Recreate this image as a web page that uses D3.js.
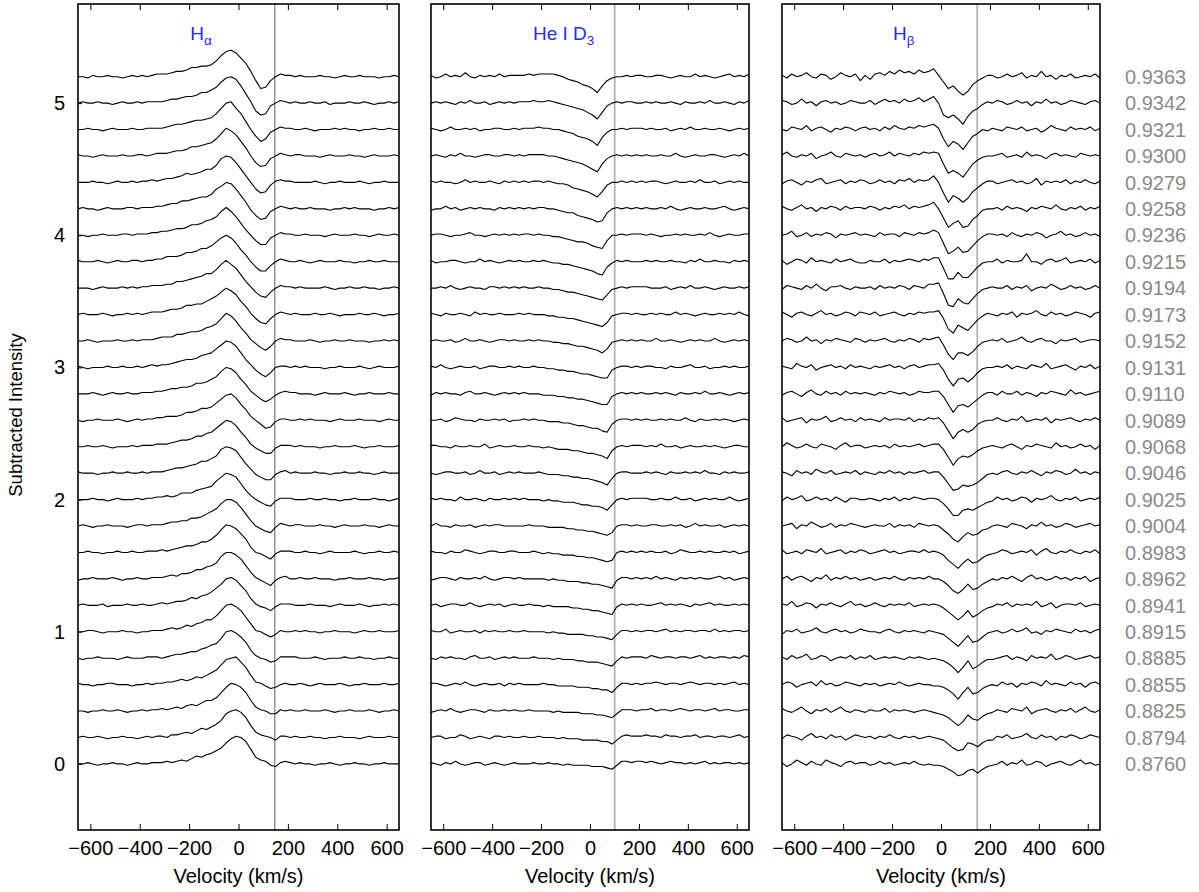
<!DOCTYPE html>
<html><head><meta charset="utf-8">
<script src="https://cdn.jsdelivr.net/npm/d3@7"></script>
<style>body{margin:0;background:#fff}svg{display:block}text{font-family:"Liberation Sans",Arial,Helvetica,sans-serif}</style>
</head><body><svg id="c" width="1199" height="892"></svg>
<script>
// ---------------- DATA ----------------
const velocity = [-650,-630,-610,-590,-570,-550,-530,-510,-490,-470,-450,-430,-410,-390,-370,-350,-330,
  -310,-290,-270,-250,-230,-210,-190,-170,-150,-130,-110,-90,-70,-50,-30,-10,10,30,50,70,90,110,130,150,170,190,
  210,230,250,270,290,310,330,350,370,390,410,430,450,470,490,510,530,550,570,590,610,630,650];
// phases, bottom spectrum first
const phases = ["0.8760","0.8794","0.8825","0.8855","0.8885","0.8915","0.8941","0.8962","0.8983","0.9004","0.9025","0.9046","0.9068","0.9089","0.9110","0.9131","0.9152","0.9173","0.9194","0.9215","0.9236","0.9258","0.9279","0.9300","0.9321","0.9342","0.9363"];
const offsets = [0,0.2,0.4,0.6,0.8,1.0,1.2,1.4,1.6,1.8,2.0,2.2,2.4,2.6,2.8,3.0,3.2,3.4,3.6,3.8,4.0,4.2,4.4,4.6,4.8,5.0,5.2];
const xTicks = [-600,-400,-200,0,200,400,600];
const yTicks = [0,1,2,3,4,5];
const lineNames = [["H","α"],["He I D","3"],["H","β"]];
const titleVelocity = [-195,-233,-196];
const restLine = [147,101,148];

// intensities in units of 0.01, rows bottom (0.8760) to top (0.9363)
// H-alpha: wing -650..-330 | core -310..190 | wing 210..650
const haLeft = [
[0,0,1,0,-1,0,0,1,0,0,-1,0,1,0,0,1,1],[0,1,0,0,1,0,-1,0,0,1,0,0,-1,0,1,0,1],[0,0,-1,0,0,1,0,0,1,0,-1,0,0,1,0,1,1],
[1,0,0,-1,0,0,1,1,0,0,0,-1,0,0,1,0,1],[0,-1,0,0,1,0,0,0,-1,0,1,0,0,0,1,1,1],[0,0,1,1,0,-1,0,0,0,1,0,0,-1,0,0,1,1],
[0,1,0,0,0,1,-1,0,0,0,1,0,0,1,0,0,1],[-1,0,0,1,0,0,0,1,0,-1,0,0,1,0,0,1,1],[0,0,1,0,0,-1,0,0,1,0,0,1,0,0,1,1,1],
[0,1,0,-1,0,0,1,0,0,0,-1,0,1,1,0,1,1],[0,0,0,1,0,0,-1,0,1,0,0,0,1,0,1,1,2],[1,0,0,0,-1,0,0,1,0,0,1,0,0,1,0,1,1],
[0,0,1,0,0,1,0,-1,0,0,0,1,0,1,1,1,2],[0,-1,0,0,1,0,0,0,1,0,-1,0,1,0,1,1,2],[0,0,0,1,0,-1,0,1,0,0,1,0,0,1,1,1,2],
[1,0,-1,0,0,0,1,0,0,1,0,0,1,0,1,2,1],[0,0,1,0,-1,0,0,0,1,0,0,1,0,1,1,1,2],[0,1,0,0,0,1,0,-1,0,0,1,0,1,0,1,2,2],
[0,0,0,-1,0,1,0,0,0,1,0,1,0,1,1,2,2],[1,0,0,0,1,0,-1,0,1,0,0,1,1,0,1,1,2],[0,0,-1,0,0,1,0,0,0,1,1,0,1,1,1,2,2],
[0,1,0,0,-1,0,1,0,0,0,1,1,0,1,1,1,2],[0,0,0,1,0,0,-1,0,1,0,0,1,0,1,1,2,1],[1,0,0,-1,0,1,0,0,0,1,0,0,1,1,0,1,2],
[0,0,1,0,0,-1,0,1,0,0,0,1,0,0,1,1,1],[0,1,0,0,1,0,0,-1,0,1,0,0,1,0,1,1,1],[0,0,-1,1,0,0,1,0,0,-1,0,1,0,1,0,1,2]];
const haCore = [
[1,2,1,2,3,2,4,6,5,7,8,10,12,16,19,21,20,17,11,5,3,2,-1,-2,1,2],
[1,0,2,2,3,4,3,5,7,6,8,10,13,18,20,21,19,15,9,4,2,1,0,-2,1,1],
[2,1,2,3,2,4,5,4,6,8,8,10,14,18,21,20,18,14,8,3,1,0,-2,-2,1,0],
[1,2,2,3,4,3,4,6,5,7,9,11,15,19,20,21,17,13,7,2,1,-1,-3,-2,0,1],
[0,1,2,3,3,4,5,5,7,8,10,11,15,20,21,19,16,12,6,2,0,-1,-3,-2,1,1],
[1,2,3,2,3,5,4,6,7,9,9,12,16,20,21,19,16,11,6,1,0,-2,-4,-2,1,0],
[2,1,2,3,3,4,6,5,7,8,10,13,16,20,21,19,15,11,5,1,-1,-2,-4,-1,1,1],
[1,2,3,2,4,4,5,7,7,9,10,12,17,20,20,18,15,10,5,1,-1,-3,-5,-1,1,2],
[2,1,2,3,4,5,5,6,8,8,10,13,17,21,20,18,14,10,4,0,-1,-3,-5,-1,1,1],
[1,2,3,3,4,4,6,6,7,9,11,13,17,20,20,18,14,9,4,0,-2,-4,-5,-1,2,1],
[2,3,2,3,5,5,5,7,8,9,10,14,17,20,19,17,12,7,3,0,-2,-4,-5,-1,1,1],
[1,2,3,4,4,5,6,7,9,9,11,13,18,20,19,17,12,7,3,-1,-3,-5,-5,-1,1,2],
[2,2,3,4,5,5,6,8,8,10,11,14,17,20,19,16,11,7,2,-1,-3,-5,-5,-1,1,1],
[2,3,3,3,4,6,6,7,9,9,10,13,16,19,20,17,12,8,3,0,-3,-6,-5,-1,1,1],
[2,3,4,4,5,5,6,8,8,9,11,13,17,20,19,16,11,7,2,-1,-4,-6,-4,-1,1,2],
[2,2,3,4,5,6,6,7,9,10,11,14,17,20,19,16,11,6,2,-2,-5,-7,-4,0,1,1],
[3,3,3,5,5,6,7,7,8,10,11,13,17,21,19,15,10,6,1,-2,-5,-7,-4,0,2,1],
[2,3,4,4,5,7,7,8,8,10,12,14,17,20,18,15,10,6,1,-3,-6,-7,-3,0,2,1],
[2,3,3,5,5,6,7,8,9,11,11,14,18,21,18,15,10,5,1,-3,-6,-7,-3,0,2,1],
[2,4,4,4,5,7,7,8,10,10,12,15,18,20,18,14,9,5,0,-4,-7,-7,-3,0,2,1],
[3,3,4,5,5,6,8,8,9,11,12,14,18,21,18,14,9,4,0,-4,-7,-7,-2,0,2,1],
[2,3,4,4,6,6,7,8,9,9,11,15,17,20,19,15,10,5,-1,-5,-8,-7,-2,0,2,1],
[2,3,3,4,5,7,6,7,8,10,10,13,18,20,19,15,10,5,0,-5,-8,-7,-2,1,2,1],
[2,2,3,4,4,5,7,7,8,9,10,13,17,21,19,16,11,6,0,-5,-8,-7,-2,0,2,1],
[1,2,3,4,4,5,6,7,7,8,9,12,16,20,21,16,12,6,0,-5,-9,-7,-2,0,2,1],
[1,2,3,3,4,5,5,6,8,8,10,12,16,19,20,18,13,7,1,-6,-9,-8,-2,0,2,1],
[2,2,3,4,4,5,7,7,8,8,9,12,16,19,20,18,14,10,4,-3,-9,-8,-3,0,2,1]];
const haRight = [
[1,0,1,0,0,-1,0,0,1,0,-1,0,0,1,0,0,-1,0,0,1,0,0,0],[0,1,0,0,1,0,0,-1,0,0,1,0,0,0,-1,0,1,0,0,0,1,0,0],
[1,0,0,1,0,0,0,1,0,-1,0,0,1,0,0,0,1,0,-1,0,0,1,0],[0,0,1,0,-1,0,1,0,0,0,1,0,-1,0,0,1,0,0,0,1,0,0,1],
[1,1,0,0,0,1,0,-1,0,0,0,1,0,0,1,0,0,-1,0,0,1,0,0],[0,1,0,1,0,0,-1,0,0,1,0,0,0,-1,0,1,0,0,1,0,0,0,1],
[1,0,0,0,1,0,0,0,-1,0,1,0,0,0,1,0,-1,0,0,1,0,1,0],[0,0,1,0,0,1,0,0,0,-1,0,0,1,0,0,0,1,0,0,-1,0,0,1],
[1,0,0,1,0,0,-1,0,1,0,0,0,0,1,0,-1,0,0,1,0,0,1,0],[0,1,1,0,0,0,1,0,0,-1,0,1,0,0,0,1,0,0,-1,0,1,0,0],
[1,0,0,0,1,0,0,1,0,0,-1,0,0,1,0,0,0,1,0,0,-1,0,1],[0,1,0,0,0,1,0,0,-1,0,0,1,0,0,1,0,0,-1,0,1,0,0,0],
[1,0,1,0,0,0,-1,0,0,1,0,0,0,1,0,-1,0,0,1,0,0,0,1],[0,0,1,0,1,0,0,0,-1,0,1,0,0,0,1,0,0,0,-1,0,1,0,0],
[1,1,0,0,0,-1,0,1,0,0,0,1,0,-1,0,0,1,0,0,0,1,0,0],[0,1,0,1,0,0,0,-1,0,0,1,0,0,0,1,0,-1,0,1,0,0,0,1],
[1,0,0,0,1,0,-1,0,0,1,0,0,1,0,0,0,-1,0,0,1,0,1,0],[0,1,0,0,0,1,0,0,1,0,-1,0,0,0,1,0,0,1,0,-1,0,0,1],
[1,0,1,0,0,0,0,1,0,-1,0,0,1,0,0,1,0,0,-1,0,0,1,0],[0,0,1,0,-1,0,1,0,0,0,1,0,0,-1,0,0,1,0,0,1,0,0,0],
[1,0,0,1,0,0,0,-1,0,1,0,0,0,1,0,0,-1,0,1,0,0,1,0],[0,1,0,0,1,0,0,0,-1,0,0,1,0,1,0,0,0,-1,0,0,1,0,1],
[1,0,0,0,0,1,0,-1,0,0,1,0,0,0,1,0,-1,0,0,1,0,0,0],[0,1,1,0,0,0,-1,0,1,0,0,0,1,0,0,-1,0,1,0,0,0,1,0],
[1,0,0,1,0,-1,0,0,0,1,0,1,0,0,-1,0,0,1,0,0,1,0,0],[0,1,0,0,1,0,0,1,-1,0,0,0,1,0,0,1,0,-1,0,0,1,0,1],
[1,0,1,0,0,0,1,0,0,-1,0,1,0,0,1,0,0,0,-1,0,0,1,0]];

// He I D3
const heLeft = [
[1,0,-1,1,0,2,0,-1,0,1,1,-1,0,1,0,-1,0],[0,1,1,-1,0,0,2,1,-1,0,1,0,-1,1,1,0,1],[-1,0,1,0,2,0,-1,0,1,1,0,-1,1,0,0,1,0],
[1,1,0,-1,0,1,0,2,0,-1,0,1,0,0,1,-1,1],[0,-1,1,0,1,0,0,-1,1,2,0,0,1,-1,0,1,0],[1,0,0,2,-1,0,1,0,0,1,-1,1,0,1,0,0,1],
[0,1,-1,0,1,1,0,0,2,0,-1,0,1,0,1,-1,0],[-1,0,1,1,0,-1,1,0,0,1,0,2,0,-1,0,1,1],[1,0,0,-1,1,0,0,2,1,0,-1,0,1,1,0,0,1],
[0,2,0,0,-1,1,0,0,1,-1,0,1,0,1,1,0,0],[1,0,1,0,0,-1,2,0,0,1,0,-1,1,0,0,1,0],[0,-1,0,1,1,0,0,1,-1,0,2,0,0,1,-1,0,1],
[1,1,0,0,-1,1,0,0,1,0,0,2,-1,0,1,0,0],[0,0,1,-1,0,2,1,0,0,-1,1,0,0,1,0,1,-1],[-1,1,0,1,0,0,-1,1,2,0,0,1,0,-1,0,1,0],
[1,0,2,0,-1,0,1,0,0,1,-1,0,1,1,0,0,1],[0,1,0,0,1,-1,0,2,0,0,1,0,-1,0,1,1,0],[1,0,-1,1,0,0,1,0,-1,2,0,1,0,0,1,0,0],
[0,0,1,0,2,0,-1,0,1,0,0,-1,1,1,0,1,0],[1,-1,0,0,1,1,0,-1,0,0,2,0,1,0,-1,0,1],[0,1,1,0,-1,0,0,1,2,0,0,-1,0,1,0,1,0],
[-1,0,0,2,0,1,-1,0,1,0,1,0,0,-1,1,0,1],[1,0,1,0,0,-1,0,2,0,1,0,0,1,0,-1,1,0],[0,1,0,-1,1,0,2,0,0,-1,0,1,1,0,0,1,1],
[1,0,-1,0,2,0,0,1,0,1,-1,0,0,1,1,0,0],[0,1,0,1,0,-1,1,0,2,0,0,1,-1,0,1,0,1],[1,-1,0,2,0,1,0,3,0,-1,1,0,1,0,2,0,1]];
const heCore = [
[1,0,0,0,1,0,0,1,0,0,-1,0,-1,-1,-1,-1,-2,-2,-2,-3,-4,-1,2,2,1,2],
[0,0,1,0,0,1,0,0,0,-1,0,-1,-1,-1,-2,-2,-2,-2,-3,-3,-5,-2,1,2,1,1],
[1,0,0,1,0,0,0,0,-1,0,-1,-1,-1,-1,-2,-2,-2,-3,-3,-4,-5,-2,1,1,1,0],
[0,1,0,0,0,0,1,0,0,-1,-1,-1,-1,-2,-2,-2,-3,-3,-4,-4,-6,-2,1,1,0,1],
[1,0,0,0,1,0,0,0,-1,0,-1,-1,-1,-2,-2,-3,-3,-3,-4,-5,-6,-2,1,0,1,1],
[0,0,1,0,0,0,0,-1,0,-1,-1,-2,-2,-2,-2,-3,-3,-4,-4,-5,-6,-2,1,1,0,1],
[1,0,0,1,0,0,-1,0,-1,-1,-1,-1,-2,-2,-3,-3,-4,-4,-5,-6,-7,-1,1,0,1,0],
[0,1,0,0,0,0,0,-1,0,-1,-1,-2,-2,-2,-3,-3,-4,-4,-5,-6,-7,-1,1,1,0,1],
[1,0,0,0,1,0,-1,0,-1,-1,-2,-2,-2,-3,-3,-4,-4,-5,-6,-7,-6,0,1,0,1,0],
[0,0,0,1,0,0,0,-1,-1,-1,-1,-2,-2,-3,-3,-4,-4,-5,-6,-7,-5,0,1,1,0,1],
[1,0,1,0,0,0,-1,0,-1,-1,-2,-2,-2,-3,-4,-4,-5,-5,-6,-8,-4,0,1,0,1,1],
[0,1,0,0,0,1,0,-1,-1,-1,-2,-2,-3,-3,-4,-4,-5,-6,-7,-9,-4,0,1,1,0,0],
[1,0,0,1,0,0,-1,0,-1,-2,-2,-2,-3,-3,-4,-5,-5,-6,-7,-9,-3,0,1,0,1,1],
[0,0,1,0,1,0,0,-1,-1,-1,-2,-2,-3,-4,-4,-5,-6,-6,-8,-9,-3,0,1,1,0,1],
[1,0,1,0,0,0,-1,-1,-1,-2,-2,-3,-3,-4,-4,-5,-6,-7,-8,-8,-2,0,1,0,1,0],
[0,1,0,0,1,0,0,-1,-1,-2,-2,-3,-3,-4,-5,-5,-6,-7,-8,-8,-2,0,1,1,0,1],
[1,0,0,1,0,1,0,0,-1,-1,-2,-2,-3,-4,-4,-5,-6,-7,-9,-6,-1,0,1,0,1,0],
[0,1,0,1,0,0,0,-1,-1,-2,-2,-3,-3,-4,-5,-6,-7,-8,-9,-6,-1,0,1,1,0,1],
[1,0,1,0,0,1,0,0,-1,-1,-2,-3,-3,-4,-5,-6,-7,-8,-9,-5,-1,0,1,0,1,1],
[0,1,0,0,1,0,1,0,-1,-1,-2,-2,-3,-4,-5,-6,-7,-9,-10,-4,-1,1,0,1,0,0],
[1,0,1,1,0,1,0,0,-1,-1,-2,-3,-4,-5,-5,-6,-8,-9,-10,-4,0,0,1,0,1,1],
[0,1,0,1,0,1,1,0,0,-1,-2,-3,-3,-5,-6,-7,-8,-10,-9,-3,0,1,0,1,0,1],
[1,0,1,0,1,1,0,1,0,-1,-1,-2,-4,-5,-6,-7,-9,-11,-7,-2,0,0,1,0,1,0],
[0,1,0,1,1,1,1,0,0,-1,-2,-3,-4,-5,-6,-8,-10,-12,-6,-2,0,1,0,1,0,1],
[1,0,1,1,1,2,1,1,0,0,-1,-2,-3,-5,-6,-7,-9,-12,-6,-2,0,0,1,0,1,1],
[0,1,1,1,2,1,1,2,1,0,-1,-2,-3,-4,-5,-7,-9,-12,-7,-2,0,1,0,1,1,0],
[1,1,1,2,1,2,2,2,2,1,0,-2,-3,-4,-6,-7,-9,-12,-7,-3,-1,0,0,1,0,1]];
const heRight = [
[2,1,2,1,0,1,2,1,1,0,1,0,1,2,0,1,0,1,1,0,1,0,1],[1,2,1,1,0,2,1,1,0,1,1,2,0,1,1,0,1,1,0,1,2,0,1],
[1,1,2,0,1,1,0,1,2,1,0,1,1,0,1,2,0,1,1,0,0,1,1],[0,1,1,2,1,0,1,1,0,1,2,1,0,1,1,0,1,0,1,2,0,1,0],
[1,0,2,1,0,1,1,0,1,1,0,1,2,0,1,0,1,1,0,1,0,2,1],[0,1,1,0,1,2,0,1,0,1,1,0,1,1,0,2,0,1,0,1,1,0,1],
[1,0,0,1,2,0,1,0,1,0,-1,1,0,1,2,0,1,0,0,1,0,1,0],[0,1,0,2,0,1,0,-1,1,0,1,0,1,0,0,1,2,0,1,-1,0,1,0],
[1,0,1,0,0,1,-1,0,2,1,0,0,1,0,1,0,0,1,0,1,-1,0,1],[0,0,1,1,0,0,1,0,1,-1,0,2,0,1,0,0,1,-1,0,1,0,1,0],
[1,1,0,0,1,0,0,2,0,0,1,-1,0,1,0,1,0,0,2,0,-1,0,1],[0,1,0,1,0,-1,1,0,0,1,0,1,0,2,0,0,-1,1,0,1,0,0,1],
[1,0,1,0,2,0,0,1,-1,0,1,0,0,1,0,1,0,-1,0,1,1,0,0],[0,1,0,0,1,0,1,0,0,2,0,-1,1,0,0,1,0,1,0,-1,0,1,0],
[1,0,0,1,0,1,0,-1,1,0,0,1,0,2,0,0,1,0,-1,0,1,0,1],[0,1,1,0,0,-1,1,0,0,1,2,0,0,1,-1,0,0,1,0,1,0,0,1],
[1,0,0,2,0,0,1,0,-1,0,1,0,1,0,0,2,0,-1,0,1,0,1,0],[0,0,1,0,1,0,0,2,0,1,0,-1,0,1,0,0,1,0,1,0,2,0,-1],
[1,1,0,0,0,1,-1,0,1,0,2,0,0,1,0,-1,0,1,0,0,1,0,1],[0,1,0,1,0,0,1,0,0,-1,1,0,2,0,0,1,0,0,-1,1,0,1,0],
[1,0,1,0,-1,0,0,1,0,1,0,0,1,0,2,0,-1,0,1,0,0,1,1],[0,1,0,0,1,0,2,0,-1,0,1,0,0,1,0,0,1,2,0,-1,0,1,0],
[1,0,1,1,0,-1,0,1,0,0,1,0,2,0,0,1,-1,0,1,0,1,0,0],[0,1,0,0,1,0,0,2,0,-1,0,1,0,0,1,1,0,-1,0,1,0,2,0],
[1,0,1,0,0,1,-1,0,1,0,2,0,0,1,0,0,1,0,-1,0,1,0,1],[0,1,0,1,0,0,1,0,-1,1,0,0,1,0,2,0,0,1,0,-1,1,0,2],
[1,0,0,1,1,0,-1,0,1,0,0,2,0,1,0,-1,0,1,2,0,1,0,2]];

// H-beta
const hbLeft = [
[1,-2,0,3,1,-1,2,0,-1,3,1,0,-2,1,2,0,1],[-1,2,1,0,-2,1,3,0,1,-1,2,0,1,-2,0,2,1],[2,0,-1,1,3,0,-2,1,0,2,-1,1,3,0,-1,1,0],
[0,2,1,-2,0,1,2,-1,3,0,1,-1,0,2,1,0,-1],[1,-1,2,0,1,3,-1,0,2,1,-2,0,1,0,2,-1,1],[-2,1,0,2,-1,0,1,3,0,-1,1,2,0,1,-1,0,2],
[1,0,3,-1,0,2,1,-2,1,0,2,0,-1,1,3,0,1],[0,2,-1,1,2,0,-2,1,0,3,-1,1,0,2,0,1,-1],[2,-1,0,1,-1,2,1,0,3,-1,0,1,2,-1,1,0,2],
[0,1,2,-2,1,0,3,1,-1,0,2,-1,1,0,2,1,0],[-1,2,0,1,3,-1,0,2,0,1,-1,2,0,-2,1,1,0],[1,0,-2,2,0,1,-1,3,1,0,2,-1,0,1,0,2,-1],
[0,3,1,-1,0,2,0,-1,2,1,0,-2,1,3,0,1,1],[2,-1,0,1,2,-2,1,0,1,3,-1,0,2,0,1,-1,2],[-1,1,2,0,-2,1,3,0,-1,2,0,1,-1,2,0,1,0],
[1,0,-1,3,1,0,2,-2,0,1,2,0,1,-1,2,0,1],[0,2,1,-1,0,3,0,1,-2,1,0,2,1,0,-1,2,1],[2,0,-2,1,2,0,-1,1,3,0,1,-1,0,2,1,-1,2],
[-1,2,1,0,-1,2,0,3,0,-2,1,1,2,0,-1,1,0],[1,-2,0,2,1,-1,3,0,1,0,-1,2,0,1,2,0,-1],[0,1,3,-1,0,2,-1,1,0,2,1,-2,1,0,1,2,0],
[2,0,-1,1,3,0,1,-2,1,0,2,1,-1,2,0,1,1],[-1,1,2,0,-2,1,0,2,3,-1,0,1,2,-1,1,0,2],[1,3,0,-1,1,0,2,-2,0,1,3,0,-1,2,1,0,1],
[0,-1,2,1,0,3,-1,1,2,0,-2,1,0,2,1,-1,1],[2,1,-1,0,3,0,1,-2,1,2,0,1,-1,0,2,1,0],[1,-1,2,0,1,3,0,-1,2,1,-2,0,3,1,0,2,-3]];
const hbCore = [
[1,-1,0,2,0,1,-1,0,1,0,2,0,-1,0,-1,-1,-2,-4,-6,-9,-8,-5,-4,-7,-4,-2],
[0,1,-1,1,0,2,0,-1,1,0,1,-1,0,1,0,-1,-2,-5,-8,-10,-9,-4,-5,-7,-4,-2],
[-1,1,0,0,2,-1,1,0,1,0,-1,0,1,0,-1,-2,-3,-5,-8,-11,-8,-3,-6,-7,-4,-2],
[1,0,1,-1,0,1,0,2,0,-1,0,1,0,0,-1,-1,-2,-4,-7,-11,-6,-2,-7,-6,-3,-1],
[0,2,-1,0,1,0,1,0,-1,1,0,1,0,-1,0,-1,-2,-4,-7,-11,-7,-2,-8,-6,-3,-1],
[1,0,0,-1,1,2,0,-1,1,0,1,0,-1,1,0,-1,-2,-5,-8,-11,-7,-3,-8,-7,-4,-1],
[-1,0,2,0,-1,1,0,1,0,2,-1,0,1,0,1,0,-2,-5,-8,-11,-8,-4,-9,-7,-4,-2],
[0,1,-1,0,1,0,2,0,-1,1,0,1,0,2,0,0,-2,-5,-9,-11,-8,-4,-8,-7,-4,-2],
[1,-1,0,1,2,0,1,-1,0,1,1,0,2,0,1,0,-2,-6,-9,-12,-8,-5,-8,-7,-4,-2],
[-1,0,1,0,0,2,-1,1,0,1,-1,2,1,0,1,0,-3,-6,-10,-12,-8,-5,-7,-6,-3,-2],
[0,1,0,-1,1,0,2,-1,1,0,2,1,0,1,1,0,-3,-7,-12,-12,-8,-7,-8,-6,-4,-2],
[1,0,-1,1,0,2,0,1,-1,1,0,1,2,0,1,1,-3,-8,-13,-12,-9,-10,-9,-7,-4,-1],
[-1,0,1,0,1,-1,2,0,1,0,1,2,0,1,2,2,-2,-8,-14,-9,-7,-8,-6,-3,-1,0],
[0,1,0,-1,2,0,1,1,0,2,-1,1,0,2,1,2,-2,-8,-14,-9,-7,-9,-7,-3,-1,0],
[1,0,-1,1,0,2,1,0,1,-1,0,2,1,1,2,2,-2,-8,-14,-9,-8,-10,-7,-4,-1,1],
[0,-1,1,0,1,2,0,1,-1,1,2,0,1,2,2,3,-2,-9,-14,-9,-8,-11,-8,-4,-1,0],
[-1,1,0,1,2,0,-1,1,0,2,1,-1,2,1,2,3,-3,-10,-14,-9,-9,-11,-8,-4,-1,0],
[1,0,2,-1,0,1,2,0,-1,1,0,2,1,2,2,3,-3,-11,-14,-8,-10,-12,-8,-4,-1,1],
[0,1,-1,2,0,1,0,2,1,-1,2,1,0,3,3,4,-4,-13,-14,-8,-11,-12,-8,-4,-1,0],
[-1,1,0,0,2,-1,1,0,1,2,1,0,2,1,3,3,-5,-13,-13,-8,-12,-12,-8,-4,-1,0],
[1,0,-1,2,0,1,1,-1,2,1,0,2,1,2,4,2,-6,-14,-12,-9,-13,-12,-8,-4,-1,1],
[0,2,1,-1,1,0,2,1,3,0,2,1,2,3,5,0,-7,-14,-11,-9,-14,-13,-8,-5,-1,0],
[1,-1,0,2,0,1,-1,2,1,3,0,2,1,2,5,0,-8,-15,-10,-12,-15,-12,-7,-4,-1,1],
[-1,1,2,0,1,3,0,2,1,0,2,1,3,2,3,2,-6,-13,-11,-13,-16,-11,-6,-3,-1,0],
[2,0,1,-1,2,0,3,1,0,2,1,3,2,3,4,1,-7,-13,-9,-11,-15,-10,-5,-3,0,-1],
[0,2,-1,1,3,1,2,0,3,1,2,4,1,3,5,0,-9,-11,-9,-12,-16,-10,-6,-4,-1,1],
[1,-2,2,3,1,4,2,5,3,4,2,5,3,4,6,1,-4,-9,-7,-11,-14,-11,-6,-3,-1,1]];
const hbRight = [
[-1,0,2,-1,1,0,3,-1,0,2,1,-2,0,1,2,0,-1,1,3,0,1,-1,0],[-2,1,0,2,-1,0,1,3,0,-1,2,0,1,-2,1,0,2,1,-1,0,2,1,0],
[-1,1,0,-1,2,1,0,3,-2,0,1,2,0,-1,1,0,2,-1,1,3,0,-1,1],[0,-1,2,0,1,-2,1,0,2,1,-1,3,0,1,0,-1,2,0,1,-2,1,2,0],
[-1,0,1,2,-1,1,0,-2,2,0,1,0,3,-1,0,2,1,-1,0,1,2,0,1],[0,1,-1,0,2,0,1,3,-1,0,-2,1,0,2,1,0,-1,2,0,1,-1,1,2],
[-1,1,0,2,-1,1,0,1,0,3,-1,0,2,-2,0,1,1,0,2,-1,0,1,0],[0,-1,1,0,2,0,-2,1,3,0,1,-1,0,2,0,1,-1,1,0,2,-2,0,1],
[-1,0,2,1,-1,0,1,0,2,-2,1,3,0,-1,1,0,2,0,-1,1,0,2,-1],[0,1,0,-1,2,1,0,-2,1,0,3,0,1,-1,0,2,1,-1,0,1,2,0,1],
[-1,2,0,1,-1,0,2,1,-2,1,0,1,3,0,-1,1,0,2,-1,0,1,0,2],[0,-1,1,2,0,-1,1,0,2,0,-2,1,0,2,1,-1,0,3,0,1,-1,1,0],
[1,0,-1,1,2,0,-2,1,0,2,1,0,-1,3,0,1,-1,0,2,0,1,-2,1],[0,2,0,-1,1,0,3,-1,0,1,0,2,-2,1,0,1,2,0,-1,1,0,2,0],
[1,-1,2,0,0,2,-1,1,0,-2,1,0,2,1,0,-1,3,0,1,-1,0,1,2],[0,1,0,2,-1,1,0,-1,2,1,0,3,-1,0,1,2,0,-2,1,0,2,-1,1],
[1,0,2,-1,0,1,3,0,-1,1,2,0,0,-2,1,0,1,2,-1,0,1,1,0],[0,-1,1,0,2,-2,1,0,1,3,0,-1,2,0,1,-1,0,2,1,0,-2,1,2],
[1,0,0,2,-1,1,0,2,-2,0,1,0,3,1,-1,0,2,0,1,-1,0,2,0],[0,2,-1,1,0,0,1,6,0,0,-2,1,2,0,1,3,-1,0,1,0,2,-1,1],
[1,0,1,-1,2,0,-1,1,0,2,1,-2,0,1,3,0,1,-1,0,2,0,1,-1],[0,1,-1,2,0,1,0,-2,1,0,2,1,0,3,0,-1,1,0,2,-1,1,0,2],
[1,-1,0,1,2,0,1,-1,0,3,-2,1,0,1,0,2,-1,1,0,2,0,-1,1],[0,1,2,-1,0,1,-1,3,0,1,0,-2,1,2,0,1,0,-1,2,1,0,1,0],
[1,0,-1,2,1,0,2,-1,0,1,-2,0,3,1,0,-1,2,0,1,0,2,-1,1],[0,2,1,-1,0,2,0,1,-2,1,0,3,0,1,-1,0,2,1,0,-1,1,2,0],
[1,-1,0,2,0,1,3,-1,1,0,4,0,1,-2,1,0,2,-1,0,1,0,2,-1]];

// ---------------- BUILD ----------------
function joinRows(L, C, R) { return L.map((l, i) => l.concat(C[i], R[i])); }
const panelsData = [joinRows(haLeft, haCore, haRight), joinRows(heLeft, heCore, heRight), joinRows(hbLeft, hbCore, hbRight)];
const bad = [];
panelsData.forEach((rows, p) => rows.forEach((r, i) => { if (r.length !== velocity.length) bad.push(`panel ${p} row ${i}: ${r.length}`); }));
if (bad.length) throw new Error("bad lengths " + bad.join("; "));

const svg = d3.select("#c");
const panels = [{x0: 78, x1: 399}, {x0: 431, x1: 749}, {x0: 782, x1: 1100}];
const refColor = ["#6e6e6e", "#b4b4b4", "#b4b4b4"];
const refWidth = [1.1, 1.8, 1.8];
const yTop = 4, yBottom = 830;
const y = d3.scaleLinear().domain([-0.5, 5.75]).range([yBottom, yTop]);
const titleBlue = "#2a2aff";
const fmt = d3.format("d");
const FONT = '"Liberation Sans", Arial, sans-serif';

panels.forEach((p, pi) => {
  const x = d3.scaleLinear().domain([-650, 650]).range([p.x0, p.x1]);
  const g = svg.append("g");

  g.append("line")
    .attr("x1", x(restLine[pi])).attr("x2", x(restLine[pi]))
    .attr("y1", yTop).attr("y2", yBottom)
    .attr("stroke", refColor[pi]).attr("stroke-width", refWidth[pi]);

  const rows = panelsData[pi];
  rows.forEach((row, r) => {
    const line = d3.line().x((d, i) => x(velocity[i])).y(d => y(offsets[r] + d / 100));
    g.append("path").datum(row).attr("d", line)
      .attr("fill", "none").attr("stroke", "#000").attr("stroke-width", 1.1)
      .attr("stroke-linejoin", "round");
  });

  const minor = d3.range(-640, 641, 20);
  const axB = g.append("g").attr("transform", `translate(0,${yBottom})`);
  axB.call(d3.axisBottom(x).tickValues(minor).tickSize(-3).tickFormat(""));
  axB.call(d3.axisBottom(x).tickValues(xTicks).tickSize(-6).tickPadding(11).tickFormat(fmt));
  axB.selectAll(".domain").remove();
  axB.selectAll("text").attr("font-size", 20).attr("fill", "#000").style("font-family", FONT);
  const axT = g.append("g").attr("transform", `translate(0,${yTop})`);
  axT.call(d3.axisTop(x).tickValues(minor).tickSize(-3).tickFormat(""));
  axT.call(d3.axisTop(x).tickValues(xTicks).tickSize(-6).tickFormat(""));
  axT.selectAll(".domain").remove();
  g.selectAll(".tick line").attr("stroke", "#000").attr("stroke-width", 1);

  if (pi === 0) {
    const axL = g.append("g").attr("transform", `translate(${p.x0},0)`);
    axL.call(d3.axisLeft(y).tickValues(yTicks).tickSize(-4).tickPadding(13).tickFormat(fmt));
    axL.selectAll(".domain").remove();
    axL.selectAll("text").attr("font-size", 20).attr("fill", "#000").style("font-family", FONT);
    axL.selectAll(".tick line").attr("stroke", "#000");
  }

  g.append("rect").attr("x", p.x0).attr("y", yTop)
    .attr("width", p.x1 - p.x0).attr("height", yBottom - yTop)
    .attr("fill", "none").attr("stroke", "#000").attr("stroke-width", 1.6);

  g.append("text").attr("x", (p.x0 + p.x1) / 2).attr("y", 883)
    .attr("text-anchor", "middle").attr("font-size", 20).text("Velocity (km/s)");

  const t = g.append("text").attr("x", x(titleVelocity[pi])).attr("y", 40)
    .attr("fill", titleBlue).attr("font-size", 19);
  t.append("tspan").text(lineNames[pi][0]);
  t.append("tspan").attr("font-size", 13.5).attr("dy", 5).text(lineNames[pi][1]);
});

svg.append("g").selectAll("text").data(phases).join("text")
  .attr("x", 1125).attr("y", (d, i) => y(offsets[i]))
  .attr("dy", "0.36em").attr("font-size", 20).attr("fill", "#8a8a8a").text(d => d);

svg.append("text").attr("transform", "translate(22,415) rotate(-90)")
  .attr("text-anchor", "middle").attr("font-size", 18.5).text("Subtracted Intensity");
</script>
</body></html>
